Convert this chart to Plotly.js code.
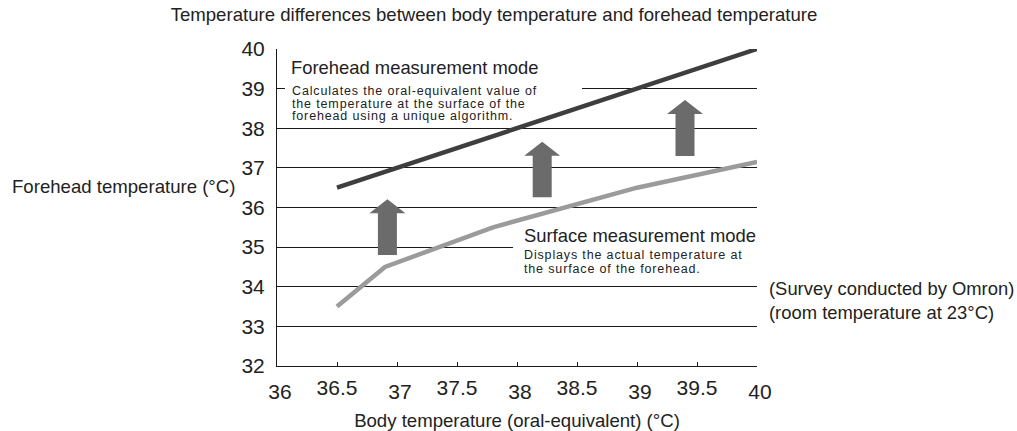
<!DOCTYPE html>
<html><head><meta charset="utf-8">
<script src="https://cdn.plot.ly/plotly-3.0.1.min.js"></script>
<style>html,body{margin:0;padding:0;background:#fff}#chart{width:1017px;height:431px}</style>
</head><body><div id="chart"></div>
<script>
// ---- data ----
const foreheadX = [36.5, 40];
const foreheadY = [36.5, 40];
const surfaceX = [36.5, 36.9, 37.8, 39, 40];
const surfaceY = [33.5, 34.5, 35.5, 36.5, 37.15];
const arrowX = [36.92, 38.21, 39.40];
const arrowFrom = [34.80, 36.26, 37.30];
const arrowTo = [36.21, 37.66, 38.71];
const xIntTicks = [36, 37, 38, 39, 40];
const xHalfTicks = [36.5, 37.5, 38.5, 39.5];
const xAllTicks = [36, 36.5, 37, 37.5, 38, 38.5, 39, 39.5, 40];
const yTicks = [32, 33, 34, 35, 36, 37, 38, 39, 40];
const xRange = [36, 40];
const yRange = [32, 40];

const FONT = 'Liberation Sans, Arial, sans-serif';
const TXT = '#222222';
const W = 1017, H = 431, M = {l: 277, r: 260, t: 49, b: 65};
const pw = W - M.l - M.r, ph = H - M.t - M.b;
const dxPx = (xRange[1] - xRange[0]) / pw, dyPx = (yRange[1] - yRange[0]) / ph;
// figure pixel -> paper coords
const px = v => (v - M.l) / pw;
const py = v => (H - M.b - v) / ph;

// block arrows built from the arrow arrays
const shaftHalf = 9.5 * dxPx, headHalf = 18 * dxPx, headH = 14 * dyPx;
const arrowShapes = arrowX.map((x, i) => {
  const b = arrowFrom[i], t = arrowTo[i], hb = t - headH;
  const p = `M${x - shaftHalf},${b} L${x + shaftHalf},${b} L${x + shaftHalf},${hb} L${x + headHalf},${hb} L${x},${t} L${x - headHalf},${hb} L${x - shaftHalf},${hb} Z`;
  return {type: 'path', xref: 'x', yref: 'y', path: p, fillcolor: '#6b6b6b', line: {width: 0}, layer: 'above'};
});

const traces = [
  {x: foreheadX, y: foreheadY, mode: 'lines', line: {color: '#3e3e3e', width: 4.5}, hoverinfo: 'skip'},
  {x: surfaceX, y: surfaceY, mode: 'lines', line: {color: '#9b9b9b', width: 4.5}, hoverinfo: 'skip'},
  {x: xRange, y: [32, 32], xaxis: 'x2', mode: 'lines', line: {width: 0}, hoverinfo: 'skip', showlegend: false}
];

const ann = (x, y, text, size, extra) => Object.assign({
  x: px(x), y: py(y), xref: 'paper', yref: 'paper', text, showarrow: false, xanchor: 'left', yanchor: 'middle',
  font: {family: FONT, size, color: TXT}
}, extra || {});
const sp = t => `<span style="letter-spacing:0.85px">${t}</span>`;

const annotations = [
  ann(289, 67.3, 'Forehead measurement mode', 18.4),
  ann(290, 91, sp('Calculates the oral-equivalent value of'), 12.5),
  ann(290, 103.6, sp('the temperature at the surface of the'), 12.5),
  ann(290, 116, sp('forehead using a unique algorithm.'), 12.5),
  ann(521.5, 235, 'Surface measurement mode', 18.4),
  ann(522, 255.5, sp('Displays the actual temperature at'), 12.5),
  ann(522, 269, sp('the surface of the forehead.'), 12.5),
  ann(766.5, 288.3, '(Survey conducted by Omron)', 18.4),
  ann(766.5, 312, '(room temperature at 23°C)', 18.4),
  ann(10, 186, 'Forehead temperature (°C)', 18.6)
];

const boxes = [
  {type: 'rect', xref: 'x', yref: 'y', x0: 36 + 8 * dxPx, x1: 36 + 305 * dxPx, y0: 40 - 74 * dyPx, y1: 40 - 6 * dyPx,
   fillcolor: '#ffffff', line: {width: 0}, layer: 'between'},
  {type: 'rect', xref: 'x', yref: 'y', x0: 36 + 236 * dxPx, x1: 40, y0: 40 - 229 * dyPx, y1: 40 - 173 * dyPx,
   fillcolor: '#ffffff', line: {width: 0}, layer: 'between'}
];

const layout = {
  width: W, height: H, margin: M, showlegend: false,
  paper_bgcolor: '#fff', plot_bgcolor: '#fff',
  font: {family: FONT, color: TXT},
  title: {text: 'Temperature differences between body temperature and forehead temperature',
    xref: 'container', yref: 'container', x: 494 / W, y: 1 - 14 / H, xanchor: 'center', yanchor: 'middle',
    font: {family: FONT, size: 18.6, color: TXT}},
  xaxis: {range: xRange, tickvals: xAllTicks, ticktext: xAllTicks.map(v => xIntTicks.includes(v) ? String(v) : ''),
    showgrid: false, zeroline: false, showline: true, linecolor: '#1a1a1a', linewidth: 1,
    ticks: 'inside', ticklen: 4, tickcolor: '#1a1a1a', tickwidth: 1, ticklabelshift: 3, ticklabelstandoff: 7,
    tickfont: {family: FONT, size: 21, color: TXT},
    title: {text: 'Body temperature (oral-equivalent) (°C)', font: {family: FONT, size: 18.6, color: TXT}, standoff: 12}},
  xaxis2: {range: xRange, overlaying: 'x', side: 'bottom', anchor: 'y', tickvals: xHalfTicks,
    ticktext: xHalfTicks.map(String), ticklabelshift: 8.5, ticklabelstandoff: 7, showgrid: false, zeroline: false, showline: false, ticks: '',
    tickfont: {family: FONT, size: 21, color: TXT}},
  yaxis: {range: yRange, tickvals: yTicks, showgrid: true, gridcolor: '#1a1a1a', gridwidth: 1,
    zeroline: false, showline: true, linecolor: '#1a1a1a', linewidth: 1, ticks: '', ticklabelstandoff: 7,
    tickfont: {family: FONT, size: 21, color: TXT}},
  shapes: boxes.concat(arrowShapes),
  annotations
};

Plotly.newPlot('chart', traces, layout, {displayModeBar: false, staticPlot: true});
</script></body></html>
